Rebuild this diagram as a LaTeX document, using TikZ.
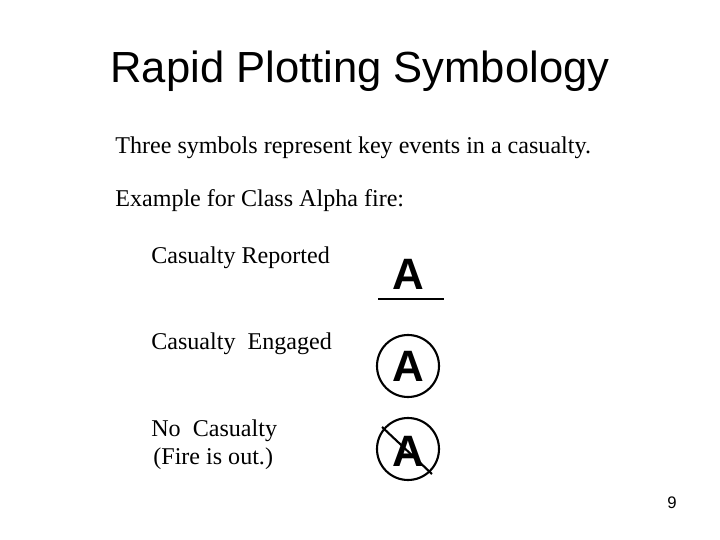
\documentclass[tikz,border=0pt]{standalone}
\usepackage{fontspec}
\setmainfont{Liberation Serif}
\newfontfamily\arialf{Liberation Sans}
\begin{document}
\begin{tikzpicture}[x=0.02cm,y=-0.02cm,
  body/.style={anchor=base west,inner sep=0,font=\fontsize{13.7}{16}\selectfont},
  sym/.style={inner sep=0,font=\arialf\fontsize{25}{30}\selectfont\bfseries},
  ring/.style={draw,circle,line width=1.2pt,minimum size=62*0.02cm}]
\useasboundingbox (0,0) rectangle (720,540);
\node[inner sep=0,font=\arialf\fontsize{24.8}{30}\selectfont] (title) at (360,71) {Rapid Plotting Symbology};
\node[body] (t1) at (115,154) {Three symbols represent key events in a casualty.};
\node[body] (t2) at (115,207) {Example for Class Alpha fire:};
\node[body] (r1) at (151,264) {Casualty Reported};
\node[body] (r2) at (151,350) {Casualty\ \ Engaged};
\node[body] (r3) at (151,437) {No\ \ Casualty};
\node[body] (r3b) at (153,464) {(Fire is out.)};
\node[sym] (a1) at (408,274) {A};
\coordinate (l1) at (378,299); \coordinate (l2) at (444,299);
\draw[line width=1.4pt] (l1) -- (l2);
\node[ring] (c2) at (408,366) {};
\node[sym] (a2) at (408,366) {A};
\node[ring] (c3) at (408,449) {};
\node[sym] (a3) at (408,451) {A};
\coordinate (s1) at (382,427); \coordinate (s2) at (432,474);
\draw[line width=1.2pt] (s1) -- (s2);
\node[inner sep=0,font=\arialf\fontsize{9.5}{11}\selectfont] (pg) at (672,503) {9};
\end{tikzpicture}
\end{document}
